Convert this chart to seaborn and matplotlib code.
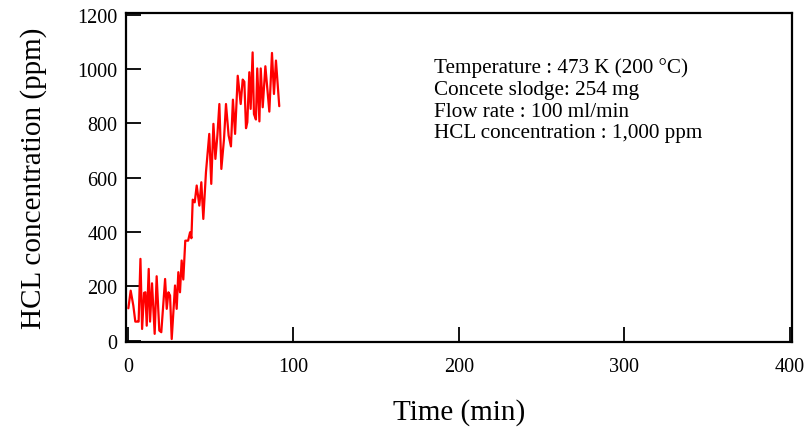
import numpy as np
import pandas as pd
import matplotlib
matplotlib.use("Agg")
import matplotlib.pyplot as plt
import seaborn as sns

# time (min) and HCL concentration (ppm)
time_min = [0.2, 1.6, 3.2, 4.4, 5.6, 6.4, 7.5, 8.5, 9.7, 10.5, 11.3, 12.5, 13.3, 14.5,
            16.1, 17.3, 18.9, 20.1, 22.4, 23.4, 24.4, 25.4, 26.4, 28.4, 29.4, 30.4,
            31.4, 32.4, 33.4, 34.6, 36.3, 37.5, 38.3, 39.1, 40.3, 41.5, 43.1, 44.3,
            45.5, 47.1, 49.1, 50.3, 51.6, 52.8, 54.0, 55.2, 56.4, 58.0, 59.2, 60.8,
            62.2, 63.4, 64.7, 66.3, 68.1, 69.3, 70.3, 71.3, 72.1, 73.3, 74.1, 75.3,
            76.1, 77.3, 78.1, 79.4, 80.2, 81.4, 83.0, 85.4, 87.0, 88.2, 89.4, 91.4]
hcl_ppm = [119, 184, 129, 70, 70, 70, 301, 43, 176, 178, 55, 264, 70, 211,
           25, 237, 37, 31, 227, 117, 178, 166, 6, 203, 117, 252,
           178, 295, 225, 368, 368, 399, 377, 519, 509, 571, 497, 583,
           448, 620, 761, 577, 798, 669, 755, 871, 632, 742, 871, 755,
           715, 887, 761, 975, 871, 961, 953, 782, 804, 988, 853, 1061,
           834, 814, 1002, 807, 1002, 859, 1010, 843, 1059, 908, 1031, 863]

x_ticks = [0, 100, 200, 300, 400]
y_ticks = [0, 200, 400, 600, 800, 1000, 1200]

conditions = ["Temperature : 473 K (200 \u00b0C)",
              "Concete slodge: 254 mg",
              "Flow rate : 100 ml/min",
              "HCL concentration : 1,000 ppm"]

df = pd.DataFrame({"t": time_min, "c": hcl_ppm})

sns.set_theme(style="ticks")
plt.rcParams["font.family"] = ["Liberation Serif", "DejaVu Serif"]
plt.rcParams["text.color"] = "black"
plt.rcParams["axes.labelcolor"] = "black"

fig = plt.figure(figsize=(8.08, 4.31), dpi=100)
ax = fig.add_axes([0.156, 0.2042, 0.824, 0.7633])

sns.lineplot(data=df, x="t", y="c", sort=False, estimator=None,
             color="#ff0000", linewidth=1.6, ax=ax)

ax.set_xlim(-1.2, 401.2)
ax.set_ylim(-5, 1206)
ax.set_xticks(x_ticks)
ax.set_yticks(y_ticks)

for s in ax.spines.values():
    s.set_linewidth(1.6)
    s.set_color("black")
ax.tick_params(direction="in", length=11, width=1.3, labelsize=14.5,
               colors="black", top=False, right=False)
ax.tick_params(axis="y", pad=6)
ax.tick_params(axis="x", pad=11)

ax.set_xlabel("Time (min)", fontsize=21, labelpad=16)
ax.set_ylabel("HCL concentration (ppm)", fontsize=21, labelpad=22)

ax.text(185, 1044, "\n".join(conditions), fontsize=15.2, va="top", ha="left",
        linespacing=1.2)

fig.savefig("out.png", dpi=100)
